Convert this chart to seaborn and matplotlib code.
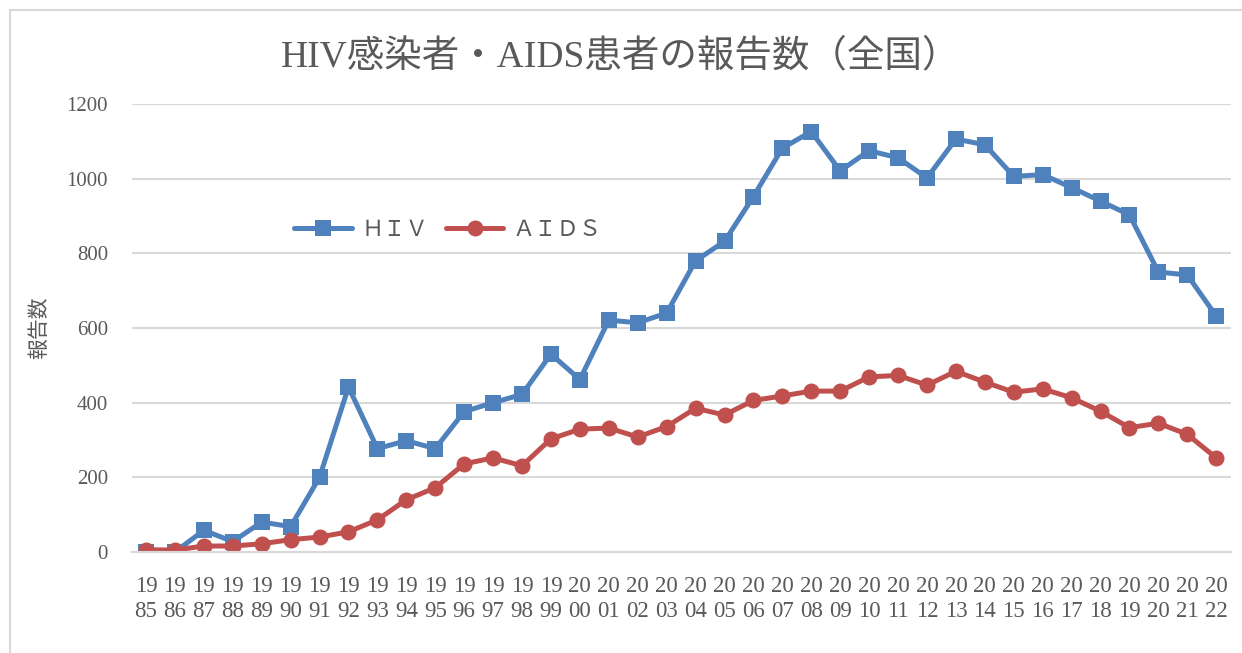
import pandas as pd
import seaborn as sns
import matplotlib.pyplot as plt
from matplotlib.patches import Rectangle

years = list(range(1985, 2023))
hiv = [0, 0, 58, 28, 80, 68, 200, 442, 277, 298, 277, 376, 400, 422, 530, 462,
       621, 614, 640, 780, 832, 952, 1082, 1126, 1021, 1075, 1056, 1002, 1106, 1091,
       1006, 1011, 976, 940, 903, 750, 742, 632]
aids = [6, 5, 16, 16, 22, 33, 40, 54, 86, 140, 172, 236, 252, 231, 303, 329,
        332, 308, 336, 385, 367, 406, 418, 431, 431, 469, 473, 447, 484, 455,
        428, 437, 413, 377, 333, 345, 315, 252]
tick_labels = [f"{str(y)[:2]}\n{str(y)[2:]}" for y in years]

df = pd.DataFrame({"idx": range(len(years)), "ＨＩＶ": hiv, "ＡＩＤＳ": aids})
long_df = df.melt(id_vars="idx", var_name="series", value_name="count")

sns.set_style("white")
plt.rcParams['font.family'] = ['Liberation Serif', 'Noto Sans CJK JP']
grey = "#595959"

fig = plt.figure(figsize=(12.42, 6.53), dpi=100)
ax = fig.add_axes([0.1059, 0.1547, 0.885, 0.686])

sns.lineplot(data=long_df, x="idx", y="count", hue="series", style="series",
             palette=["#4F81BD", "#C0504D"], markers=["s", "o"], dashes=False,
             linewidth=3.6, markersize=11.5, markeredgewidth=0, ax=ax)

ax.set_xlim(-0.5, len(years) - 0.5)
ax.set_ylim(0, 1200)
ax.set_yticks(range(0, 1201, 200))
ax.yaxis.grid(True, color="#D9D9D9", linewidth=1.5)
ax.set_axisbelow(True)
ax.set_xticks(range(len(years)))
ax.set_xticklabels(tick_labels, fontsize=16.5, color=grey, linespacing=1.3)
ax.set_xticks([i - 0.5 for i in range(len(years) + 1)], minor=True)
ax.tick_params(axis="x", which="major", length=0, pad=17)
ax.tick_params(axis="x", which="minor", length=6, color="#D9D9D9", width=1.5)
ax.tick_params(axis="y", length=0, labelsize=15, labelcolor=grey, pad=17)
for s in ["left", "right", "top"]:
    ax.spines[s].set_visible(False)
ax.spines["bottom"].set_color("#D9D9D9")
ax.spines["bottom"].set_linewidth(1.5)

ax.set_xlabel("")
ax.set_ylabel("報告数", fontsize=15, color=grey, labelpad=12)
fig.suptitle("HIV感染者・AIDS患者の報告数（全国）", fontsize=27, color=grey,
             x=0.5, y=0.94)

leg = ax.legend(loc="upper left", bbox_to_anchor=(0.13, 0.785), ncol=2, frameon=False,
                fontsize=16, handlelength=2.6, columnspacing=0.8, handletextpad=0.4)
for t in leg.get_texts():
    t.set_color(grey)

fig.patches.append(Rectangle((10 / 1242, -0.1), 1.2, 1.1 - 10 / 653,
                             transform=fig.transFigure, fill=False,
                             edgecolor="#D9D9D9", linewidth=1.5))

fig.savefig("out.png", dpi=100)
